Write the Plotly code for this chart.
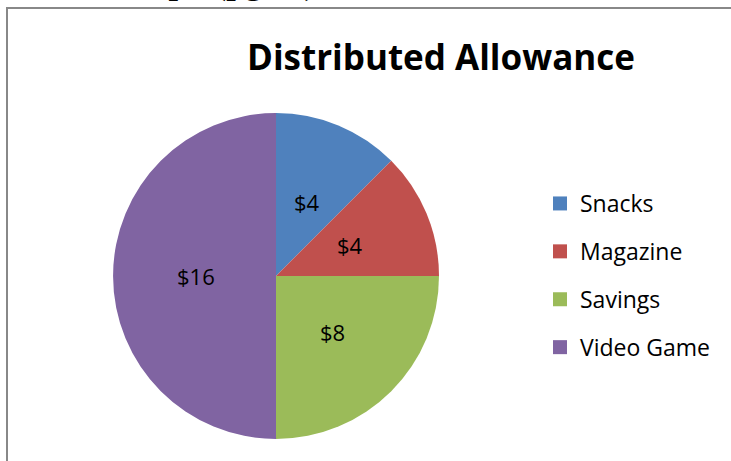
import numpy as np
import plotly.graph_objects as go

categories = ["Snacks", "Magazine", "Savings", "Video Game"]
values = [4, 4, 8, 16]
colors = ["#4F81BD", "#C0504D", "#9BBB59", "#8064A2"]
title_text = "Distributed Allowance"

W, H = 731, 461
CX, CY, R = 276, 276, 163  # pie centre and radius in pixels
fig = go.Figure()

fig.add_trace(go.Pie(
    labels=categories, values=values, sort=False, direction="clockwise", rotation=0,
    marker=dict(colors=colors, line=dict(width=0)),
    textinfo="none",
    domain=dict(x=[(CX - R) / W, (CX + R) / W], y=[1 - (CY + R) / H, 1 - (CY - R) / H]),
    showlegend=False, hoverinfo="label+value",
))

# data labels placed at half radius along each slice's bisector (Excel style)
vals = np.array(values, dtype=float)
cum = np.cumsum(vals) - vals / 2
theta = cum / vals.sum() * 2 * np.pi
annotations = []
for v, t in zip(values, theta):
    px = CX + 0.49 * R * np.sin(t)
    py = CY - 0.49 * R * np.cos(t)
    annotations.append(dict(text=f"${v}", x=px / W, y=1 - py / H, xref="paper", yref="paper",
                            xanchor="center", yanchor="middle", showarrow=False,
                            font=dict(family="Open Sans", size=22, color="black")))

for c, col in zip(categories, colors):
    fig.add_trace(go.Scatter(x=[None], y=[None], mode="markers", name=c,
                             marker=dict(symbol="square", size=14, color=col),
                             legendgroup=c, showlegend=True))

annotations.append(dict(text="<b>Graph (pg 12)</b>", x=108 / W, y=1 + 17 / H, xref="paper", yref="paper",
                        xanchor="left", yanchor="middle", showarrow=False,
                        font=dict(family="Liberation Serif", size=34, color="black")))

fig.update_layout(
    width=W, height=H, margin=dict(l=0, r=0, t=0, b=0),
    paper_bgcolor="white", plot_bgcolor="white",
    xaxis=dict(visible=False), yaxis=dict(visible=False),
    title=dict(text="<b>" + title_text + "</b>", x=441 / W, y=1 - 58 / H,
               xanchor="center", yanchor="middle",
               font=dict(family="Open Sans", size=35, color="black")),
    legend=dict(x=540 / W, y=1 - 182 / H, xanchor="left", yanchor="top",
                font=dict(family="Open Sans", size=23, color="black"),
                tracegroupgap=15, itemsizing="trace", bgcolor="rgba(0,0,0,0)"),
    shapes=[
        dict(type="line", xref="paper", yref="paper", x0=6 / W, x1=1, y0=1 - 8 / H, y1=1 - 8 / H,
             line=dict(color="#888888", width=2)),
        dict(type="line", xref="paper", yref="paper", x0=7 / W, x1=7 / W, y0=0, y1=1 - 8 / H,
             line=dict(color="#888888", width=2)),
    ],
    annotations=annotations,
)

fig.write_html("out.html", config={"displayModeBar": False},
               post_script="document.body.style.margin='0';")
